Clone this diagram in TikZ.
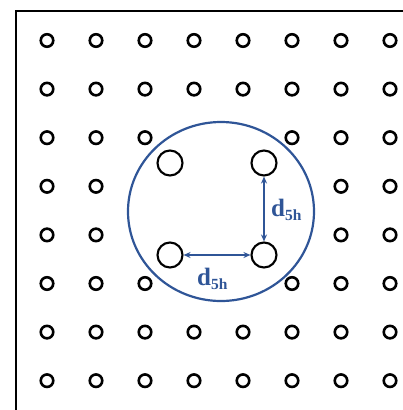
\documentclass[tikz,border=0pt]{standalone}
\usepackage{fontspec}
\setmainfont{Liberation Serif}
\usetikzlibrary{arrows.meta,shapes.geometric}
\definecolor{ringblue}{RGB}{47,85,151}
\newcommand{\dfive}{\fontsize{25}{25}\selectfont d\raisebox{-4pt}{\fontsize{15.5}{15.5}\selectfont 5h}}
\begin{document}
\begin{tikzpicture}[x=1pt,y=-1pt,
  hole/.style={circle,draw=black,line width=2.6pt,minimum size=12.5pt,inner sep=0pt},
  bighole/.style={circle,draw=black,line width=2.1pt,minimum size=25pt,inner sep=0pt},
  gap/.style={draw=ringblue,line width=1.6pt,{Stealth[length=7pt,width=6pt]}-{Stealth[length=7pt,width=6pt]}},
  dlabel/.style={text=ringblue,font=\bfseries,inner sep=0pt}]
  \useasboundingbox (0,0) rectangle (403,410);
  \begin{scope}
    \clip (0,0) rectangle (403,410);
    % outer frame, running past the page on the right and bottom
    \draw[line width=2.4pt] (16,440) -- (16,11) -- (440,11);
    % regular grid of small holes, leaving out those inside the ring
    \foreach \r in {0,...,7} {
      \foreach \c in {0,...,7} {
        \pgfmathtruncatemacro{\skip}{
          ((\r==2) && (\c>=3) && (\c<=4)) ||
          ((\r==3) && (\c>=2) && (\c<=5)) ||
          ((\r==4) && (\c>=2) && (\c<=5)) ||
          ((\r==5) && (\c>=3) && (\c<=4))}
        \ifnum\skip=0
          \node[hole] (s\r\c) at ({47+49*\c},{40.5+48.6*\r}) {};
        \fi
      }
    }
  \end{scope}
  % ring
  \node[draw=ringblue,line width=2.2pt,ellipse,minimum width=186pt,minimum height=179pt,inner sep=0pt] (ring) at (221,211.5) {};
  % four large holes
  \node[bighole] (tl) at (170,163) {};
  \node[bighole] (tr) at (264,163) {};
  \node[bighole] (bl) at (170,255) {};
  \node[bighole] (br) at (264,255) {};
  % spacing arrows
  \draw[gap] (tr) -- (br);
  \draw[gap] (bl) -- (br);
  \node[dlabel,anchor=base west] (dv) at (271,216) {\dfive};
  \node[dlabel,anchor=base west] (dh) at (197,285) {\dfive};
\end{tikzpicture}
\end{document}
